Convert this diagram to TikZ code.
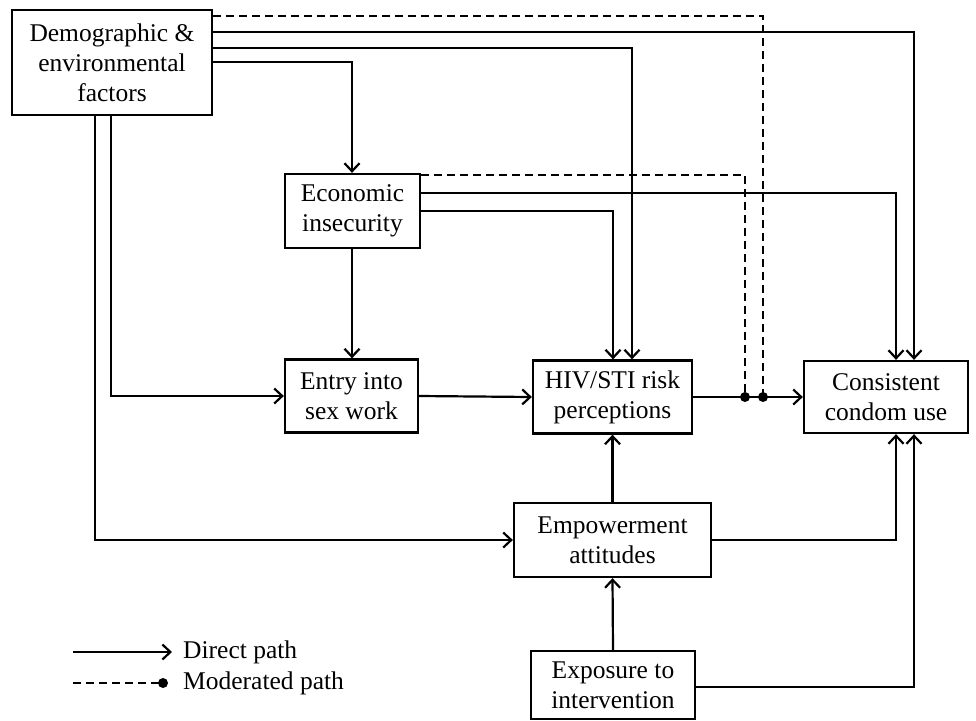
\documentclass[tikz,border=0pt]{standalone}
\usepackage{fontspec}
\setmainfont{Liberation Serif}
\usetikzlibrary{arrows.meta}
\begin{document}
\begin{tikzpicture}[x=1pt,y=-1pt,
  box/.style={draw, line width=2.3pt, inner sep=0pt, align=center, font=\fontsize{25.5}{30}\selectfont},
  direct/.style={line width=2.2pt, -{Straight Barb[length=8pt,width=15pt]}},
  modpath/.style={line width=2.2pt, dash pattern=on 8pt off 5pt},
  moddot/.style={circle, fill, inner sep=0pt, minimum size=10pt},
  legtext/.style={anchor=west, inner sep=0pt, font=\fontsize{25.5}{30}\selectfont}]
\useasboundingbox (0,0) rectangle (976,720);

% boxes
\node[box, minimum width=200pt, minimum height=105pt] (demog) at (112,62.5) {Demographic \&\\environmental\\factors};
\node[box, minimum width=135pt, minimum height=74pt] (econ) at (352.5,211) {Economic\\insecurity};
\node[box, minimum width=133pt, minimum height=73pt] (entry) at (351.5,396) {Entry into\\sex work};
\node[box, minimum width=159pt, minimum height=73pt] (hiv) at (612.5,397) {HIV/STI risk\\perceptions};
\node[box, minimum width=164pt, minimum height=72pt] (condom) at (886,397) {Consistent\\condom use};
\node[box, minimum width=197pt, minimum height=74pt] (empower) at (612.5,540) {Empowerment\\attitudes};
\node[box, minimum width=164pt, minimum height=68pt] (expo) at (613,685) {Exposure to\\intervention};

% moderation dots
\node[moddot] (dotA) at (745,397) {};
\node[moddot] (dotB) at (763,397) {};

% bend coordinates
\coordinate (d0) at (763,16);
\coordinate (d1) at (914,32);
\coordinate (d2) at (632,48);
\coordinate (d3) at (352,62);
\coordinate (d4) at (95,540);
\coordinate (d5) at (111,396);
\coordinate (e0) at (745,175);
\coordinate (e1) at (896,193);
\coordinate (e2) at (613,211);
\coordinate (m1) at (896,540);
\coordinate (x0) at (914,687);

% moderated paths
\draw[modpath] (demog.east |- d0) -- (d0) -- (dotB.center);
\draw[modpath] (econ.east |- e0) -- (e0) -- (dotA.center);

% direct paths from demographic
\draw[direct] (demog.east |- d1) -- (d1) -- (d1 |- condom.north);
\draw[direct] (demog.east |- d2) -- (d2) -- (d2 |- hiv.north);
\draw[direct] (demog.east |- d3) -- (d3) -- (d3 |- econ.north);
\draw[direct] (d4 |- demog.south) -- (d4) -- (d4 -| empower.west);
\draw[direct] (d5 |- demog.south) -- (d5) -- (d5 -| entry.west);

% from economic insecurity
\draw[direct] (econ.east |- e1) -- (e1) -- (e1 |- condom.north);
\draw[direct] (econ.east |- e2) -- (e2) -- (e2 |- hiv.north);
\draw[direct] (econ.south -| d3) -- (d3 |- entry.north);

% main chain
\draw[direct] (entry.east) -- (hiv.west);
\draw[direct] (hiv.east) -- (condom.west);
\draw[direct] (empower.north) -- (hiv.south);
\draw[direct] (empower.east) -- (m1) -- (m1 |- condom.south);
\draw[direct] (expo.north) -- (empower.south);
\draw[direct] (expo.east |- x0) -- (x0) -- (x0 |- condom.south);

% legend
\coordinate (la) at (73,652);
\coordinate (lb) at (172,652);
\coordinate (lc) at (73,683);
\node[moddot] (ldot) at (163,683) {};
\draw[direct] (la) -- (lb);
\draw[modpath] (lc) -- (ldot.center);
\node[legtext] (ltxt1) at (183,652) {Direct path};
\node[legtext] (ltxt2) at (183,683) {Moderated path};
\end{tikzpicture}
\end{document}
